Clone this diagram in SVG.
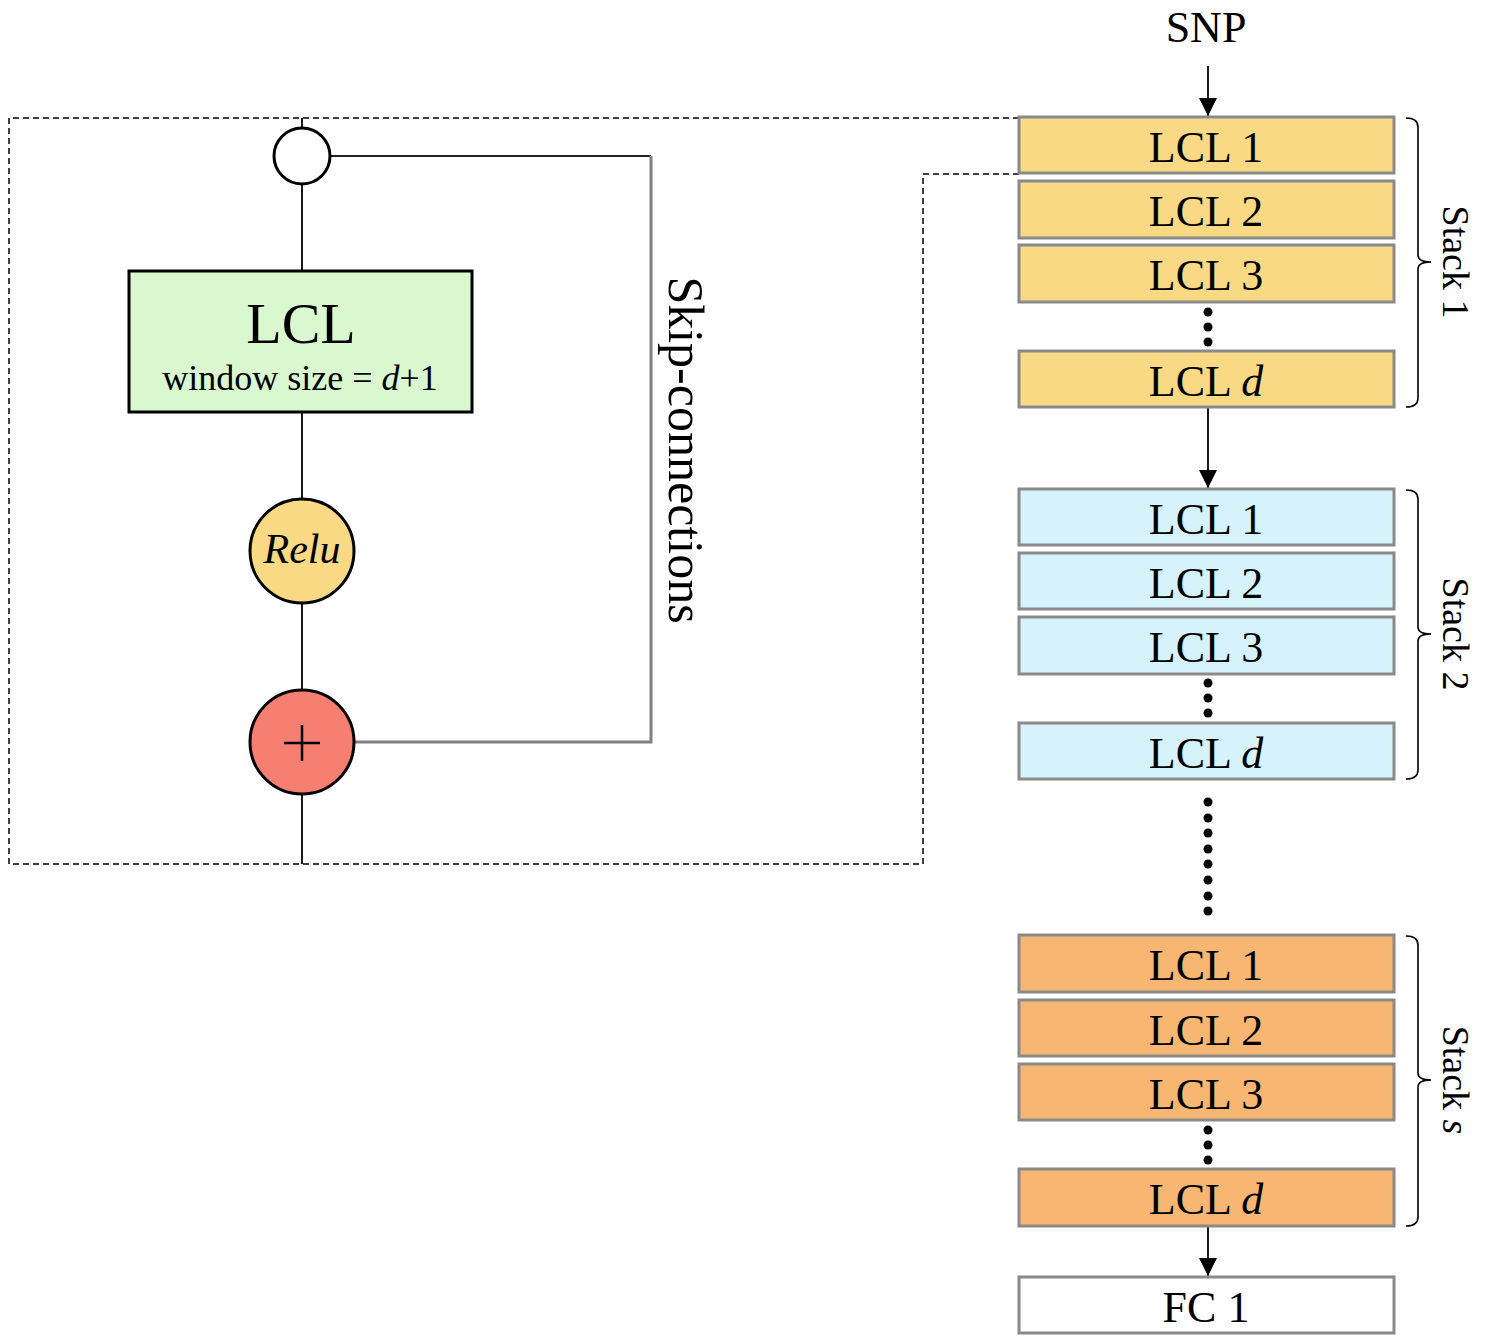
<svg xmlns="http://www.w3.org/2000/svg" width="1491" height="1336" viewBox="0 0 1491 1336">
<style>
text{font-family:"Liberation Serif","Times New Roman",serif;fill:#000}
.lbl{font-size:44px;text-anchor:middle}
.box{stroke:#8a8a8a;stroke-width:3}
.s1{fill:#f9d984}.s2{fill:#d6f3fb}.s3{fill:#f8b673}.fc{fill:#fff}
.ln{fill:none;stroke:#000;stroke-width:1.8}
.dash{fill:none;stroke:#000;stroke-width:1.5;stroke-dasharray:6 4}
.br{fill:none;stroke:#000;stroke-width:1.6}
.dot{fill:#000}
.rot{font-size:38px;text-anchor:middle}
</style>
<defs>
<marker id="ah" viewBox="0 0 10 10" refX="10" refY="5" markerWidth="18" markerHeight="18" markerUnits="userSpaceOnUse" orient="auto">
<path d="M0,0 L10,5 L0,10 z" fill="#000"/>
</marker>
</defs>

<g id="connectors">
<path class="dash" d="M1019,118 H9 V864 H923 V174 H1019"/>
<line class="ln" x1="302" y1="118" x2="302" y2="864"/>
<line x1="330" y1="156" x2="651" y2="156" stroke="#222" stroke-width="2"/>
<path d="M651,156 V742 H354" fill="none" stroke="#808080" stroke-width="3"/>
<line class="ln" x1="1208" y1="66" x2="1208" y2="116" marker-end="url(#ah)"/>
<line class="ln" x1="1208" y1="408" x2="1208" y2="488" marker-end="url(#ah)"/>
<line class="ln" x1="1208" y1="1227" x2="1208" y2="1276" marker-end="url(#ah)"/>
</g>

<g id="snp"><text class="lbl" x="1206" y="42">SNP</text></g>

<g id="top-circle"><circle cx="302" cy="156" r="28" fill="#fff" stroke="#000" stroke-width="3"/></g>

<g id="lcl-block">
<rect x="129" y="271" width="343" height="141" fill="#d9f8d0" stroke="#000" stroke-width="3"/>
<text x="301" y="343" font-size="58" text-anchor="middle">LCL</text>
<text x="300" y="390" font-size="36" text-anchor="middle">window size = <tspan font-style="italic">d</tspan>+1</text>
</g>

<g id="relu">
<circle cx="302" cy="551" r="52" fill="#f9d984" stroke="#000" stroke-width="3"/>
<text x="302" y="563" font-size="42" font-style="italic" text-anchor="middle">Relu</text>
</g>

<g id="plus">
<circle cx="302" cy="742" r="52" fill="#f77f72" stroke="#000" stroke-width="3"/>
<path d="M284,743 H320 M302,725 V761" stroke="#000" stroke-width="2.5" fill="none"/>
</g>

<g id="skip-label"><text transform="translate(669,450) rotate(90)" font-size="50" text-anchor="middle">Skip-connections</text></g>

<g id="stack1">
<rect class="box s1" x="1019" y="117" width="375" height="56"/>
<text class="lbl" x="1206" y="162">LCL 1</text>
<rect class="box s1" x="1019" y="181" width="375" height="57"/>
<text class="lbl" x="1206" y="226">LCL 2</text>
<rect class="box s1" x="1019" y="245" width="375" height="57"/>
<text class="lbl" x="1206" y="290">LCL 3</text>
<circle class="dot" cx="1208" cy="312" r="4.5"/><circle class="dot" cx="1208" cy="327" r="4.5"/><circle class="dot" cx="1208" cy="342" r="4.5"/>
<rect class="box s1" x="1019" y="351" width="375" height="56"/>
<text class="lbl" x="1206" y="396">LCL <tspan font-style="italic">d</tspan></text>
<path class="br" d="M1406,118 Q1418,118 1418,127 V255 Q1418,262 1431,262 Q1418,262 1418,269 V398 Q1418,407 1406,407"/>
<text class="rot" transform="translate(1443,262) rotate(90)">Stack 1</text>
</g>

<g id="stack2">
<rect class="box s2" x="1019" y="489" width="375" height="56"/>
<text class="lbl" x="1206" y="534">LCL 1</text>
<rect class="box s2" x="1019" y="553" width="375" height="56"/>
<text class="lbl" x="1206" y="598">LCL 2</text>
<rect class="box s2" x="1019" y="617" width="375" height="57"/>
<text class="lbl" x="1206" y="662">LCL 3</text>
<circle class="dot" cx="1208" cy="683" r="4.5"/><circle class="dot" cx="1208" cy="698" r="4.5"/><circle class="dot" cx="1208" cy="713" r="4.5"/>
<rect class="box s2" x="1019" y="723" width="375" height="56"/>
<text class="lbl" x="1206" y="768">LCL <tspan font-style="italic">d</tspan></text>
<path class="br" d="M1406,490 Q1418,490 1418,499 V627 Q1418,634 1431,634 Q1418,634 1418,641 V770 Q1418,779 1406,779"/>
<text class="rot" transform="translate(1443,634) rotate(90)">Stack 2</text>
</g>

<g id="gap-dots">
<circle class="dot" cx="1208" cy="802" r="4.5"/><circle class="dot" cx="1208" cy="818" r="4.5"/><circle class="dot" cx="1208" cy="833" r="4.5"/><circle class="dot" cx="1208" cy="849" r="4.5"/><circle class="dot" cx="1208" cy="864" r="4.5"/><circle class="dot" cx="1208" cy="880" r="4.5"/><circle class="dot" cx="1208" cy="896" r="4.5"/><circle class="dot" cx="1208" cy="911" r="4.5"/>
</g>

<g id="stacks">
<rect class="box s3" x="1019" y="935" width="375" height="57"/>
<text class="lbl" x="1206" y="980">LCL 1</text>
<rect class="box s3" x="1019" y="1000" width="375" height="56"/>
<text class="lbl" x="1206" y="1045">LCL 2</text>
<rect class="box s3" x="1019" y="1064" width="375" height="56"/>
<text class="lbl" x="1206" y="1109">LCL 3</text>
<circle class="dot" cx="1208" cy="1130" r="4.5"/><circle class="dot" cx="1208" cy="1145" r="4.5"/><circle class="dot" cx="1208" cy="1160" r="4.5"/>
<rect class="box s3" x="1019" y="1169" width="375" height="57"/>
<text class="lbl" x="1206" y="1214">LCL <tspan font-style="italic">d</tspan></text>
<path class="br" d="M1406,936 Q1418,936 1418,945 V1073 Q1418,1080 1431,1080 Q1418,1080 1418,1087 V1217 Q1418,1226 1406,1226"/>
<text class="rot" transform="translate(1443,1080) rotate(90)">Stack <tspan font-style="italic">s</tspan></text>
</g>

<g id="fc1">
<rect class="box fc" x="1019" y="1277" width="375" height="56"/>
<text class="lbl" x="1206" y="1322">FC 1</text>
</g>
</svg>
